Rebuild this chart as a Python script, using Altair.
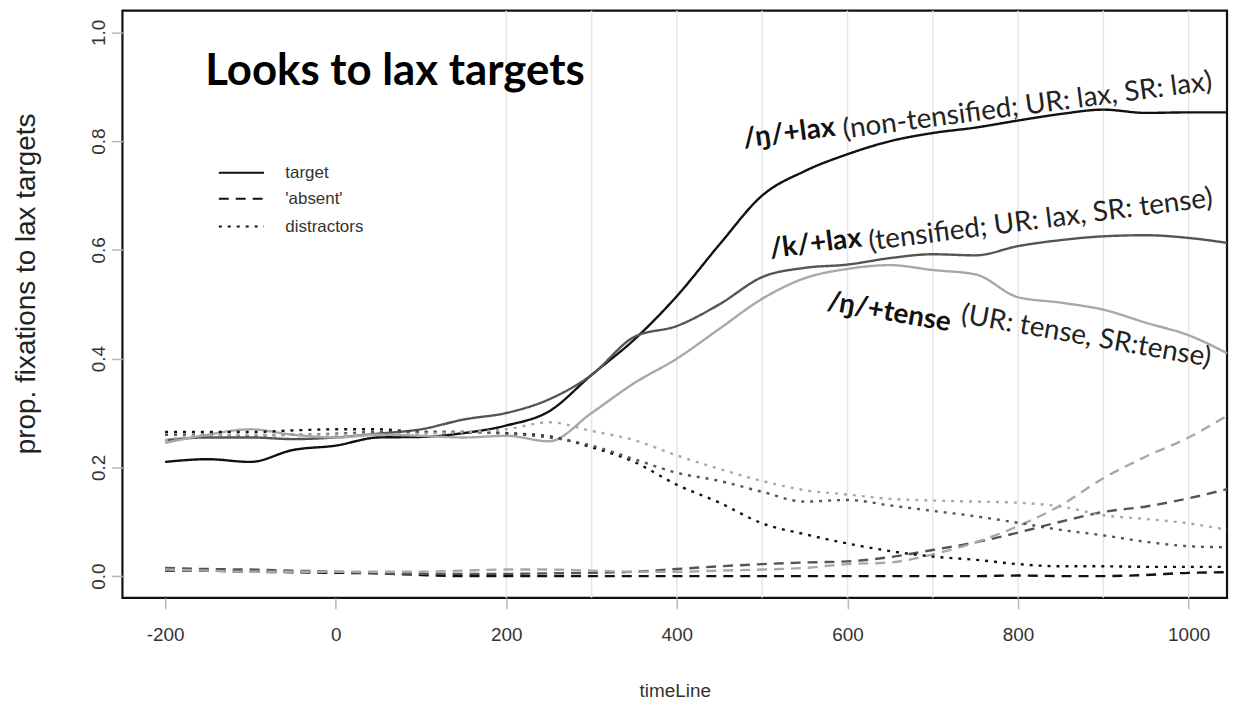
import altair as alt
import pandas as pd

# time axis (ms)
times = [-200, -150, -100, -50, 0, 50, 100, 150, 200, 250, 300, 350, 400, 450,
         500, 550, 600, 650, 700, 750, 800, 850, 900, 950, 1000, 1045]

# targets (solid)
lax_target = [0.21, 0.215, 0.21, 0.232, 0.24, 0.255, 0.256, 0.263, 0.277, 0.303, 0.37, 0.435,
              0.515, 0.61, 0.70, 0.745, 0.776, 0.80, 0.815, 0.825, 0.838, 0.85, 0.858, 0.852, 0.853, 0.853]
klax_target = [0.25, 0.255, 0.255, 0.252, 0.255, 0.262, 0.27, 0.288, 0.30, 0.325, 0.37, 0.44,
               0.46, 0.50, 0.55, 0.567, 0.573, 0.585, 0.592, 0.59, 0.607, 0.618, 0.625, 0.627, 0.622, 0.613]
tense_target = [0.245, 0.26, 0.27, 0.26, 0.255, 0.26, 0.258, 0.255, 0.258, 0.248, 0.30, 0.355,
                0.40, 0.455, 0.51, 0.548, 0.565, 0.572, 0.563, 0.555, 0.513, 0.503, 0.49, 0.466, 0.443, 0.41]

# 'absent' (dashed)
lax_absent = [0.01, 0.01, 0.008, 0.007, 0.006, 0.005, 0.002, 0.0, 0.0, 0.0, 0.0, 0.0, 0.0, 0.0,
              0.0, 0.0, 0.0, 0.0, 0.0, 0.0, 0.001, 0.0, 0.0, 0.002, 0.006, 0.007]
klax_absent = [0.015, 0.013, 0.012, 0.01, 0.008, 0.005, 0.004, 0.004, 0.004, 0.005, 0.006, 0.008,
               0.013, 0.018, 0.022, 0.025, 0.027, 0.035, 0.048, 0.062, 0.08, 0.10, 0.118, 0.128, 0.143, 0.16]
tense_absent = [0.012, 0.01, 0.008, 0.008, 0.008, 0.008, 0.008, 0.01, 0.012, 0.012, 0.01, 0.008,
                0.008, 0.01, 0.012, 0.015, 0.022, 0.025, 0.04, 0.062, 0.092, 0.13, 0.18, 0.22, 0.255, 0.295]

# distractors (dotted)
lax_distr = [0.265, 0.265, 0.265, 0.268, 0.27, 0.27, 0.265, 0.265, 0.263, 0.257, 0.237, 0.21,
             0.168, 0.135, 0.097, 0.077, 0.06, 0.046, 0.036, 0.03, 0.022, 0.018, 0.018, 0.017, 0.017, 0.017]
klax_distr = [0.26, 0.26, 0.258, 0.26, 0.262, 0.265, 0.265, 0.265, 0.262, 0.255, 0.24, 0.215,
              0.19, 0.175, 0.155, 0.137, 0.14, 0.13, 0.12, 0.11, 0.098, 0.085, 0.075, 0.063, 0.055, 0.053]
tense_distr = [0.25, 0.26, 0.26, 0.26, 0.26, 0.26, 0.262, 0.265, 0.27, 0.283, 0.267, 0.25,
               0.222, 0.197, 0.175, 0.158, 0.15, 0.142, 0.139, 0.137, 0.135, 0.128, 0.112, 0.105, 0.097, 0.085]

conditions = ["lax", "klax", "tense"]
cond_colors = ["#111111", "#555555", "#a8a8a8"]
aoi_types = ["target", "'absent'", "distractors"]
aoi_dash = [[1, 0], [10, 7], [3, 6]]

grid_x = [200, 300, 400, 500, 600, 700, 800, 900, 1000]
x_ticks = [-200, 0, 200, 400, 600, 800, 1000]
y_ticks = [0.0, 0.2, 0.4, 0.6, 0.8, 1.0]

# in-plot legend (line key), in data units
legend_labels = aoi_types
legend_y = [0.742, 0.694, 0.643]
legend_x_start = -137
legend_x_end = -84
legend_text_x = -59

series = {
    ("lax", "target"): lax_target, ("klax", "target"): klax_target, ("tense", "target"): tense_target,
    ("lax", "'absent'"): lax_absent, ("klax", "'absent'"): klax_absent, ("tense", "'absent'"): tense_absent,
    ("lax", "distractors"): lax_distr, ("klax", "distractors"): klax_distr, ("tense", "distractors"): tense_distr,
}
rows = []
for (c, a), vals in series.items():
    for t, v in zip(times, vals):
        rows.append({"time": t, "prop": v, "cond": c, "aoi": a})
df = pd.DataFrame(rows)

leg_df = pd.DataFrame({"aoi": legend_labels, "y": legend_y,
                       "x1": [legend_x_start] * 3, "x2": [legend_x_end] * 3, "tx": [legend_text_x] * 3})

# annotations
title_text = ["Looks to lax targets"]
title_x = [-153]
title_y = [0.903]

ann_bold_text = ["/ŋ/+lax", "/k/+lax", "/ŋ/+tense"]
ann_bold_x = [479, 510, 575]
ann_bold_y = [0.788, 0.585, 0.49]
ann_reg_text = ["(non-tensified; UR: lax, SR: lax)", "(tensified; UR: lax, SR: tense)", "(UR: tense, SR:tense)"]
ann_reg_x = [596, 626, 732]
ann_reg_y = [0.805, 0.599, 0.466]
ann_angle = [352.5, 352.7, 10]

W, H = 1110, 590
xscale = alt.Scale(domain=[-250, 1045], nice=False, zero=False)
yscale = alt.Scale(domain=[-0.04, 1.04], nice=False, zero=False)
dash_scale = alt.Scale(domain=aoi_types, range=aoi_dash)

grid = alt.Chart(pd.DataFrame({"g": grid_x})).mark_rule(color="#e6e6e6", strokeWidth=1.5).encode(
    x=alt.X("g:Q", scale=xscale,
            axis=alt.Axis(values=x_ticks, title="timeLine", labelFontSize=19, labelFont="Liberation Sans",
                          labelExpr="datum.value + ''",
                          labelColor="#333333", tickColor="#b8b8b8", tickSize=11, tickWidth=1.5,
                          labelPadding=26, labelBaseline="middle", domain=False, grid=False,
                          titleFont="Liberation Sans", titleFontSize=19, titleFontWeight="normal",
                          titleColor="#333333", titleY=93, titleBaseline="middle")),
    y=alt.value(0), y2=alt.value(H),
)

lines = alt.Chart(df).mark_line(strokeWidth=2.4, interpolate="monotone").encode(
    x=alt.X("time:Q", scale=xscale),
    y=alt.Y("prop:Q", scale=yscale,
            axis=alt.Axis(values=y_ticks, format=".1f", title="prop. fixations to lax targets",
                          labelFontSize=19, labelFont="Liberation Sans", labelColor="#333333",
                          labelAngle=-90, labelAlign="center", labelBaseline="bottom",
                          tickColor="#b8b8b8", tickSize=11, tickWidth=1.5, labelPadding=3,
                          domain=False, grid=False,
                          titleFont="Liberation Sans", titleFontSize=28, titleFontWeight="normal",
                          titleColor="#222222", titleAngle=-90, titleX=-96, titleY=274,
                          titleAlign="center", titleBaseline="middle")),
    color=alt.Color("cond:N", scale=alt.Scale(domain=conditions, range=cond_colors), legend=None),
    strokeDash=alt.StrokeDash("aoi:N", scale=dash_scale, legend=None),
)

leg_lines = alt.Chart(leg_df).mark_rule(color="#111111", strokeWidth=2).encode(
    x=alt.X("x1:Q", scale=xscale), x2="x2:Q",
    y=alt.Y("y:Q", scale=yscale),
    strokeDash=alt.StrokeDash("aoi:N", scale=dash_scale, legend=None),
)
leg_text = alt.Chart(leg_df).mark_text(
    font="Liberation Sans", fontSize=17, align="left", baseline="middle", color="#333333"
).encode(x=alt.X("tx:Q", scale=xscale), y=alt.Y("y:Q", scale=yscale), text="aoi:N")

title = alt.Chart(pd.DataFrame({"t": title_text, "x": title_x, "y": title_y})).mark_text(
    font="Lato", fontWeight="bold", fontSize=44, align="left", baseline="alphabetic", color="#000000"
).encode(x=alt.X("x:Q", scale=xscale), y=alt.Y("y:Q", scale=yscale), text="t:N")

ann_bold = alt.Chart(pd.DataFrame({"t": ann_bold_text, "x": ann_bold_x, "y": ann_bold_y, "a": ann_angle})).mark_text(
    font="Lato", fontWeight="bold", fontSize=28, align="left", baseline="alphabetic", color="#111111"
).encode(x=alt.X("x:Q", scale=xscale), y=alt.Y("y:Q", scale=yscale), text="t:N",
         angle=alt.Angle("a:Q", scale=None))

ann_reg = alt.Chart(pd.DataFrame({"t": ann_reg_text, "x": ann_reg_x, "y": ann_reg_y, "a": ann_angle})).mark_text(
    font="Lato", fontWeight="normal", fontSize=28, align="left", baseline="alphabetic", color="#222222"
).encode(x=alt.X("x:Q", scale=xscale), y=alt.Y("y:Q", scale=yscale), text="t:N",
         angle=alt.Angle("a:Q", scale=None))

chart = alt.layer(grid, lines, leg_lines, leg_text, title, ann_bold, ann_reg).properties(
    width=W, height=H,
    autosize=alt.AutoSizeParams(type="none"),
    padding={"left": 115, "top": 1, "right": 3, "bottom": 112},
    background="white",
).configure_view(stroke="#111111", strokeWidth=2.2)

chart.save("out.html", embed_options={"renderer": "svg", "actions": False})
